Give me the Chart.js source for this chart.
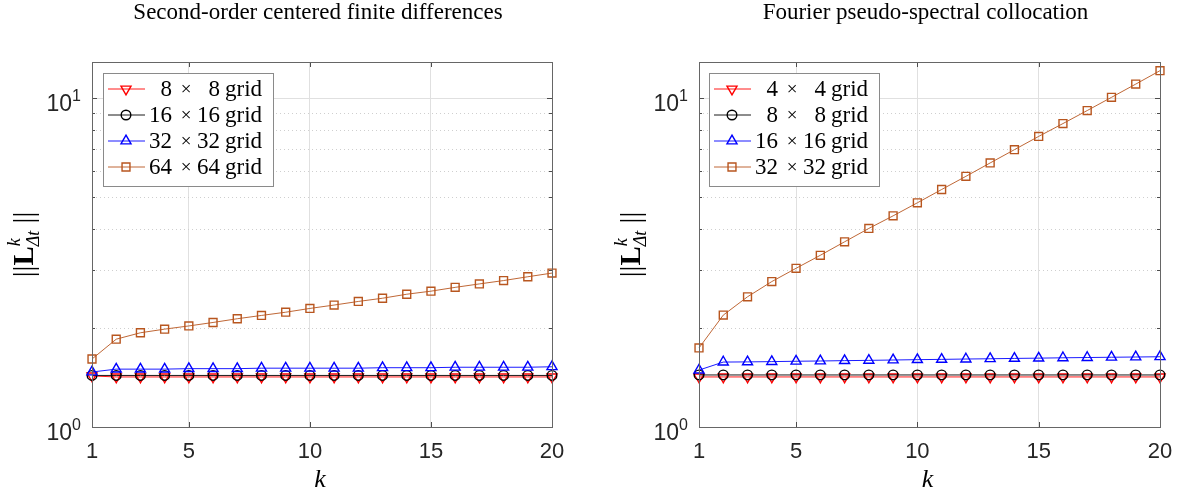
<!DOCTYPE html>
<html>
<head>
<meta charset="utf-8">
<script src="https://cdn.jsdelivr.net/npm/chart.js@4.4.1/dist/chart.umd.min.js"></script>
<style>
  html, body { margin: 0; padding: 0; background: #fff; }
  #wrap { position: relative; width: 1178px; height: 490px; }
  .panel { position: absolute; top: 0; width: 589px; height: 490px; }
</style>
</head>
<body>
<div id="wrap">
  <div class="panel" style="left:0"><canvas id="fdChart" width="589" height="490"></canvas></div>
  <div class="panel" style="left:589px"><canvas id="psChart" width="589" height="490"></canvas></div>
</div>
<script>
// time step index
const kSteps = [1, 2, 3, 4, 5, 6, 7, 8, 9, 10, 11, 12, 13, 14, 15, 16, 17, 18, 19, 20];
const xTickValues = [1, 5, 10, 15, 20];
const yTickValues = [1, 2, 3, 4, 5, 6, 7, 8, 9, 10];

// Second-order centered finite differences
const fdLabels = ['8 × 8 grid', '16 × 16 grid', '32 × 32 grid', '64 × 64 grid'];
const fd8 = [1.43, 1.42, 1.42, 1.42, 1.42, 1.42, 1.42, 1.42, 1.42, 1.42, 1.42, 1.42, 1.42, 1.42, 1.42, 1.42, 1.42, 1.42, 1.42, 1.42];
const fd16 = [1.435, 1.435, 1.435, 1.435, 1.435, 1.435, 1.435, 1.435, 1.435, 1.435, 1.435, 1.435, 1.435, 1.435, 1.435, 1.435, 1.435, 1.435, 1.435, 1.435];
const fd32 = [1.47, 1.50, 1.50, 1.50, 1.505, 1.505, 1.505, 1.51, 1.51, 1.51, 1.51, 1.51, 1.515, 1.515, 1.515, 1.52, 1.52, 1.52, 1.52, 1.525];
const fd64 = [1.61, 1.85, 1.935, 1.985, 2.03, 2.08, 2.135, 2.185, 2.235, 2.295, 2.35, 2.41, 2.465, 2.535, 2.59, 2.66, 2.725, 2.79, 2.865, 2.94];

// Fourier pseudo-spectral collocation
const psLabels = ['4 × 4 grid', '8 × 8 grid', '16 × 16 grid', '32 × 32 grid'];
const ps4 = [1.42, 1.42, 1.42, 1.42, 1.42, 1.42, 1.42, 1.42, 1.42, 1.42, 1.42, 1.42, 1.42, 1.42, 1.42, 1.42, 1.42, 1.42, 1.42, 1.42];
const ps8 = [1.44, 1.44, 1.44, 1.44, 1.44, 1.44, 1.44, 1.44, 1.44, 1.44, 1.44, 1.44, 1.44, 1.44, 1.44, 1.44, 1.44, 1.44, 1.44, 1.44];
const ps16 = [1.49, 1.576, 1.578, 1.581, 1.585, 1.588, 1.592, 1.595, 1.599, 1.603, 1.606, 1.61, 1.613, 1.617, 1.62, 1.624, 1.627, 1.63, 1.633, 1.636];
const ps32 = [1.74, 2.19, 2.49, 2.77, 3.04, 3.33, 3.66, 4.02, 4.39, 4.81, 5.28, 5.79, 6.36, 6.98, 7.66, 8.38, 9.18, 10.07, 11.05, 12.14];

const lineColors = ['#ff0000', '#000000', '#0000ff', '#b8561f'];
const markers = [
    { style: 'triangle', rot: 180, r: 5.8 },
    { style: 'circle', rot: 0, r: 4.8 },
    { style: 'triangle', rot: 0, r: 5.8 },
    { style: 'rect', rot: 0, r: 5.6 }
];

const SERIF = '"Liberation Serif", "DejaVu Serif", serif';
const SANS = '"Liberation Sans", Arial, sans-serif';

function makeDatasets(labels, series) {
    return series.map((vals, i) => ({
        label: labels[i],
        data: kSteps.map((k, j) => ({ x: k, y: vals[j] })),
        borderColor: lineColors[i],
        backgroundColor: 'rgba(0,0,0,0)',
        borderWidth: 0.9,
        pointStyle: markers[i].style,
        pointRotation: markers[i].rot,
        pointRadius: markers[i].r,
        pointBorderWidth: 1.4,
        pointBorderColor: lineColors[i],
        pointBackgroundColor: 'rgba(0,0,0,0)',
        clip: false,
        order: 4 - i
    }));
}

// everything MATLAB-ish that Chart.js doesn't do by itself
const decorPlugin = {
    id: 'decor',
    afterDraw(chart, args, opts) {
        const ctx = chart.ctx;
        const a = chart.chartArea;
        const xs = chart.scales.x;
        const ys = chart.scales.y;
        ctx.save();

        // small inward tick marks
        ctx.strokeStyle = '#4d4d4d';
        ctx.lineWidth = 1;
        ctx.beginPath();
        yTickValues.forEach(v => {
            const y = Math.round(ys.getPixelForValue(v)) + 0.5;
            const len = (v === 1 || v === 10) ? 5 : 3;
            ctx.moveTo(a.left, y); ctx.lineTo(a.left + len, y);
            ctx.moveTo(a.right, y); ctx.lineTo(a.right - len, y);
        });
        xTickValues.forEach(v => {
            const x = Math.round(xs.getPixelForValue(v)) + 0.5;
            ctx.moveTo(x, a.bottom); ctx.lineTo(x, a.bottom - 5);
            ctx.moveTo(x, a.top); ctx.lineTo(x, a.top + 5);
        });
        ctx.stroke();

        // frame
        ctx.strokeStyle = '#666';
        ctx.strokeRect(Math.round(a.left) + 0.5, Math.round(a.top) + 0.5,
            Math.round(a.right - a.left), Math.round(a.bottom - a.top));

        // title
        ctx.fillStyle = '#000';
        ctx.font = '23px ' + SERIF;
        ctx.textAlign = 'center';
        ctx.textBaseline = 'alphabetic';
        ctx.fillText(opts.title, (a.left + a.right) / 2 - 4, 19);

        // x tick labels
        ctx.fillStyle = '#262626';
        ctx.font = '22px ' + SANS;
        ctx.textBaseline = 'alphabetic';
        xTickValues.forEach(v => {
            ctx.fillText(String(v), xs.getPixelForValue(v), 458);
        });

        // y tick labels 10^0, 10^1
        [[1, '0'], [10, '1']].forEach(([v, e]) => {
            const y = ys.getPixelForValue(v);
            ctx.font = '16px ' + SANS;
            const ew = ctx.measureText(e).width;
            ctx.textAlign = 'right';
            ctx.fillText(e, a.left - 11, y + 3);
            ctx.font = '23px ' + SANS;
            ctx.fillText('10', a.left - 11 - ew, y + 13);
        });

        // x axis title
        ctx.fillStyle = '#000';
        ctx.textAlign = 'center';
        ctx.font = 'italic 26px ' + SERIF;
        ctx.fillText('k', (a.left + a.right) / 2 - 2, 487);

        // y axis title ||L^k_Δt||
        ctx.save();
        ctx.translate(a.left - 67, (a.top + a.bottom) / 2);
        ctx.rotate(-Math.PI / 2);
        ctx.textAlign = 'left';
        ctx.textBaseline = 'alphabetic';
        const parts = [
            { t: '||', f: '29px ' + SERIF, dy: 0 },
            { t: 'L', f: 'bold 29px ' + SERIF, dy: 0 },
            { t: 'k', f: 'italic 18px ' + SERIF, dy: -13, keep: true },
            { t: 'Δt', f: 'italic 18px ' + SERIF, dy: 6 },
            { t: ' ||', f: '29px ' + SERIF, dy: 0 }
        ];
        let total = 0;
        const widths = parts.map(p => { ctx.font = p.f; return ctx.measureText(p.t).width; });
        parts.forEach((p, i) => { if (!p.keep) total += widths[i]; });
        let px = -total / 2;
        parts.forEach((p, i) => {
            ctx.font = p.f;
            ctx.fillText(p.t, px, 8 + p.dy);
            if (!p.keep) px += widths[i];
        });
        ctx.restore();

        // legend box
        const lx = opts.legendX, ly = opts.legendY;
        ctx.fillStyle = '#fff';
        ctx.fillRect(lx, ly, 170, 113);
        ctx.strokeStyle = '#8a8a8a';
        ctx.lineWidth = 1;
        ctx.strokeRect(lx + 0.5, ly + 0.5, 170, 113);
        chart.data.datasets.forEach((ds, i) => {
            const ry = ly + 16 + i * 26;
            ctx.strokeStyle = ds.borderColor;
            ctx.lineWidth = 0.9;
            ctx.beginPath();
            ctx.moveTo(lx + 5, ry); ctx.lineTo(lx + 42, ry);
            ctx.stroke();
            ctx.fillStyle = 'rgba(0,0,0,0)';
            ctx.lineWidth = 1.4;
            Chart.helpers.drawPoint(ctx, {
                pointStyle: ds.pointStyle, rotation: ds.pointRotation,
                radius: ds.pointRadius, borderWidth: 1.4
            }, lx + 23, ry);
            const bits = ds.label.split(' ');
            ctx.fillStyle = '#000';
            ctx.font = '23px ' + SERIF;
            ctx.textBaseline = 'middle';
            ctx.textAlign = 'right';
            ctx.fillText(bits[0], lx + 69, ry + 1);
            ctx.font = '19px ' + SERIF;
            ctx.textAlign = 'center';
            ctx.fillText(bits[1], lx + 83, ry + 1);
            ctx.font = '23px ' + SERIF;
            ctx.textAlign = 'right';
            ctx.fillText(bits[2], lx + 117, ry + 1);
            ctx.textAlign = 'left';
            ctx.fillText(bits[3], lx + 122, ry + 1);
        });
        ctx.restore();
    }
};

function makeChart(canvasId, labels, series, pad, title, legendX) {
    const isMajor = v => v === 1 || v === 10;
    return new Chart(document.getElementById(canvasId).getContext('2d'), {
        type: 'line',
        data: { datasets: makeDatasets(labels, series) },
        options: {
            responsive: false,
            animation: false,
            devicePixelRatio: 1,
            layout: { padding: pad },
            plugins: {
                legend: { display: false },
                tooltip: { enabled: false },
                decor: { title: title, legendX: legendX, legendY: 73 }
            },
            scales: {
                x: {
                    type: 'linear', min: 1, max: 20,
                    afterBuildTicks: s => { s.ticks = xTickValues.map(v => ({ value: v })); },
                    ticks: { display: false },
                    grid: { color: '#e0e0e0', lineWidth: 1, drawTicks: false },
                    border: { display: false }
                },
                y: {
                    type: 'logarithmic', min: 1, max: 12.9,
                    afterBuildTicks: s => { s.ticks = yTickValues.map(v => ({ value: v, major: isMajor(v) })); },
                    ticks: { display: false },
                    grid: {
                        color: c => (c.tick && isMajor(c.tick.value)) ? '#e0e0e0' : '#cfcfcf',
                        lineWidth: 1, drawTicks: false
                    },
                    border: {
                        display: false,
                        dash: c => (c.tick && isMajor(c.tick.value)) ? [] : [1, 3]
                    }
                }
            }
        },
        plugins: [decorPlugin]
    });
}

makeChart('fdChart', fdLabels, [fd8, fd16, fd32, fd64],
    { left: 92, right: 37, top: 62, bottom: 63 },
    'Second-order centered finite differences', 103);
makeChart('psChart', psLabels, [ps4, ps8, ps16, ps32],
    { left: 110, right: 18, top: 62, bottom: 63 },
    'Fourier pseudo-spectral collocation', 120);
</script>
</body>
</html>
